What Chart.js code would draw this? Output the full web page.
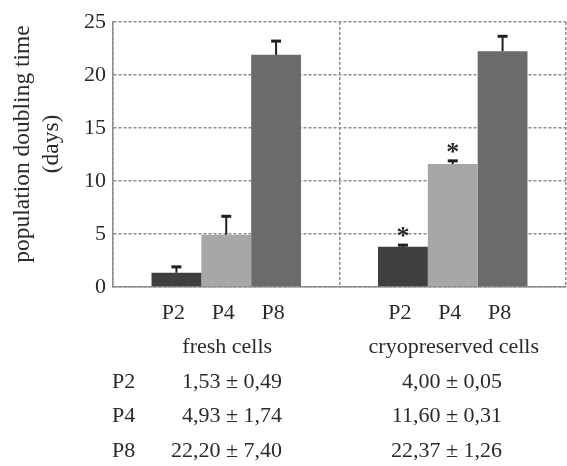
<!DOCTYPE html>
<html>
<head>
<meta charset="utf-8">
<script src="https://cdn.jsdelivr.net/npm/chart.js@4.4.1/dist/chart.umd.min.js"></script>
<style>
    html, body { margin: 0; padding: 0; background: #fff; }
    #wrap { width: 567px; height: 466px; }
</style>
</head>
<body>
<div id="wrap"><canvas id="pdtChart"></canvas></div>
<script>
// values
const groups = ['fresh cells', 'cryopreserved cells'];
const passages = ['P2', 'P4', 'P8'];
const p2Values = [1.35, 3.8];
const p4Values = [4.93, 11.6];
const p8Values = [21.9, 22.25];
const p2Errors = [0.55, 0.15];
const p4Errors = [1.74, 0.3];
const p8Errors = [1.3, 1.4];
const p2Stars = ['', '*'];
const p4Stars = ['', '*'];
const p8Stars = ['', ''];
const yTicks = [0, 5, 10, 15, 20, 25];

// summary table under the chart
const tableRows = ['P2', 'P4', 'P8'];
const freshText = ['1,53 \u00b1 0,49', '4,93 \u00b1 1,74', '22,20 \u00b1 7,40'];
const cryoText = ['4,00 \u00b1 0,05', '11,60 \u00b1 0,31', '22,37 \u00b1 1,26'];

const SERIF = "'Liberation Serif', 'Times New Roman', serif";
const TEXT = '#2a2a2a';
const GRID = '#8c8c8c';

Chart.defaults.font.family = SERIF;
Chart.defaults.color = TEXT;

const errors = [p2Errors, p4Errors, p8Errors];
const stars = [p2Stars, p4Stars, p8Stars];

// error bars, stars, passage + group labels, table, y title
const extras = {
    id: 'extras',
    afterDatasetsDraw(chart) {
        const c = chart.ctx;
        const x = chart.scales.x;
        const y = chart.scales.y;
        c.save();
        chart.data.datasets.forEach(function(ds, di) {
            const meta = chart.getDatasetMeta(di);
            meta.data.forEach(function(bar, i) {
                const top = y.getPixelForValue(ds.data[i] + errors[di][i]);
                c.strokeStyle = '#1e1e1e';
                c.lineWidth = 2;
                c.beginPath();
                c.moveTo(bar.x, bar.y);
                c.lineTo(bar.x, top);
                c.stroke();
                c.lineWidth = 3;
                c.beginPath();
                c.moveTo(bar.x - 5, top);
                c.lineTo(bar.x + 5, top);
                c.stroke();
                c.fillStyle = TEXT;
                c.textAlign = 'center';
                if (stars[di][i]) {
                    c.font = 'bold 26px ' + SERIF;
                    c.textBaseline = 'alphabetic';
                    c.fillText(stars[di][i], bar.x, top - 1);
                }
                c.font = '22px ' + SERIF;
                c.textBaseline = 'middle';
                c.fillText(passages[di], bar.x - 3, 313);
            });
        });

        c.font = '22px ' + SERIF;
        c.textBaseline = 'middle';
        c.textAlign = 'center';
        groups.forEach(function(g, i) {
            c.fillText(g, x.getPixelForValue(i) + 1, 347);
        });
        tableRows.forEach(function(r, i) {
            const ty = 382 + i * 34.5;
            c.textAlign = 'left';
            c.fillText(r, 112, ty);
            c.textAlign = 'right';
            c.fillText(freshText[i], 282, ty);
            c.fillText(cryoText[i], 502, ty);
        });

        c.font = '23.5px ' + SERIF;
        c.translate(23, 144);
        c.rotate(-Math.PI / 2);
        c.textAlign = 'center';
        c.fillText('population doubling time', 0, 0);
        c.fillText('(days)', 0, 29);
        c.restore();
    }
};

const ctx = document.getElementById('pdtChart').getContext('2d');
const pdtChart = new Chart(ctx, {
    type: 'bar',
    data: {
        labels: groups,
        datasets: [
            { label: 'P2', data: p2Values, backgroundColor: '#404040' },
            { label: 'P4', data: p4Values, backgroundColor: '#a7a7a7' },
            { label: 'P8', data: p8Values, backgroundColor: '#6b6b6b' }
        ]
    },
    options: {
        responsive: true,
        maintainAspectRatio: false,
        animation: false,
        categoryPercentage: 0.66,
        barPercentage: 1,
        layout: { padding: { top: 22, right: 1, bottom: 179, left: 0 } },
        plugins: {
            legend: { display: false },
            tooltip: { enabled: false }
        },
        scales: {
            x: {
                grid: { color: GRID, lineWidth: 1.5, drawTicks: false, offset: true },
                border: { display: true, color: GRID, width: 1.5, dash: [3, 2] },
                ticks: { display: false }
            },
            y: {
                min: 0,
                max: 25,
                afterBuildTicks: function(scale) {
                    scale.ticks = yTicks.map(function(v) { return { value: v }; });
                },
                afterFit: function(scale) { scale.width = 113; },
                grid: { color: GRID, lineWidth: 1.5, drawTicks: false },
                border: { display: true, color: GRID, width: 1.5, dash: [3, 2] },
                ticks: { font: { size: 22 }, padding: 7, color: TEXT }
            }
        }
    },
    plugins: [extras]
});
</script>
</body>
</html>
